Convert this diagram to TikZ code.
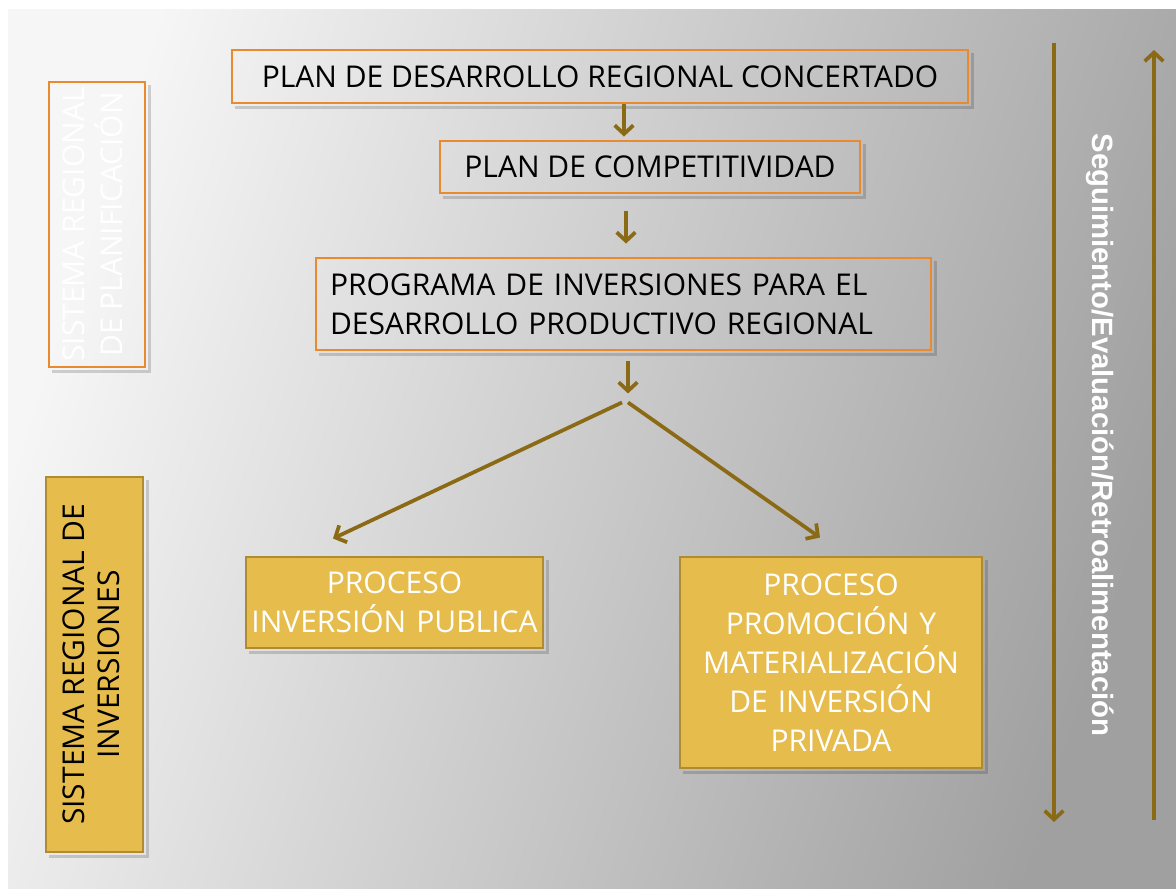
\documentclass[tikz,border=0pt]{standalone}
\usepackage{fontspec}
\setmainfont{Open Sans}
\newfontfamily\lateral{Liberation Sans}
\usepackage{tikz}
\usetikzlibrary{arrows.meta,
                calc}
\definecolor{naranja}{RGB}{234,138,46}
\definecolor{amarillo}{RGB}{230,188,76}
\definecolor{ocre}{RGB}{175,140,52}
\definecolor{marron}{RGB}{139,106,22}
\definecolor{fondoclaro}{RGB}{246,246,246}
\definecolor{fondomedio}{RGB}{188,188,188}
\definecolor{fondooscuro}{RGB}{160,160,160}
\tikzset{plan/.style =
   {rectangle,
    draw=naranja,
    line width=2.2pt,
    text=black,
    text centered,
    font=\fontsize{22.5}{29.25}\selectfont}}
\tikzset{proceso/.style =
   {rectangle,
    draw=ocre,
    fill=amarillo,
    line width=2.2pt,
    text=white,
    align=center,
    inner xsep=0pt,
    font=\fontsize{22.5}{29.25}\selectfont}}
\tikzset{sistema/.style =
   {rectangle,
    line width=2.2pt,
    inner sep=0pt,
    font=\fontsize{22.5}{25}\selectfont}}
\tikzset{flecha/.style =
   {draw=marron,
    line width=2.8pt,
    -{Straight Barb[length=6.5pt, width=14pt]}}}
\tikzset{sombra/.style =
   {draw=black,
    opacity=.16,
    line width=2.5pt}}

\begin{document}
\begin{tikzpicture}[x=0.75pt, y=-0.75pt]

    % fondo
    \useasboundingbox (0,0) rectangle (1176,888);
    \fill[white] (0,0) rectangle (1176,888);
    \shade[top color=fondoclaro,
           middle color=fondomedio,
           bottom color=fondooscuro,
           shading angle=72] (8,10) rectangle (1176,888);

    % planes
    \node [plan,
           minimum width=552pt,
           minimum height=39.75pt] (desarrollo) at (600,76.5)
    {PLAN DE DESARROLLO REGIONAL CONCERTADO};

    \node [plan,
           minimum width=315pt,
           minimum height=39pt] (competitividad) at (650,167)
    {PLAN DE COMPETITIVIDAD};

    \node [plan,
           minimum width=461.25pt,
           minimum height=69pt,
           text width=440.25pt,
           align=left] (programa) at (623.5,304)
    {PROGRAMA DE INVERSIONES PARA EL\\
     DESARROLLO PRODUCTIVO REGIONAL};

    % procesos
    \node [proceso,
           text width=222.75pt,
           minimum height=68.25pt] (publica) at (394.5,602.5)
    {PROCESO\\
     INVERSIÓN PUBLICA};

    \node [proceso,
           text width=226.5pt,
           minimum height=158.25pt] (privada) at (831,662.5)
    {PROCESO\\
     PROMOCIÓN Y\\
     MATERIALIZACIÓN\\
     DE INVERSIÓN\\
     PRIVADA};

    % sistemas
    \node [sistema,
           draw=naranja,
           text=white,
           minimum width=72pt,
           minimum height=213.75pt] (planificacion) at (97,224.5)
    {\rotatebox{90}{\begin{tabular}{@{}c@{}}
       SISTEMA REGIONAL\\ DE PLANIFICACIÓN
     \end{tabular}}};

    \node [sistema,
           draw=ocre,
           fill=amarillo,
           text=black,
           font=\fontsize{22.5}{26.25}\selectfont,
           minimum width=72.75pt,
           minimum height=281.25pt] (inversiones) at (94.5,664.5)
    {\rotatebox{90}{\begin{tabular}{@{}c@{}}
       SISTEMA REGIONAL DE\\ INVERSIONES
     \end{tabular}}};

    % sombras
    \foreach \n in {desarrollo, competitividad, programa,
                    publica, privada, planificacion, inversiones}
        \draw [sombra] ($(\n.south west)+(4,3)$) -| ($(\n.north east)+(3,4)$);

    % flechas
    \coordinate (nudo) at ($(programa.south)+(4.5,42)$);

    \draw [flecha] ($(desarrollo.south)+(24,0)$) -- ($(competitividad.north)+(-26,-3)$);
    \draw [flecha] ($(competitividad.south)+(-24,17)$) -- ($(programa.north)+(2.5,-13)$);
    \draw [flecha] ($(programa.south)+(4.5,10)$) -- (nudo);
    \draw [flecha] ($(nudo)+(-6,9)$) -- ($(publica.north)+(-61.5,-17)$);
    \draw [flecha] ($(nudo)+(0,9)$) -- ($(privada.north)+(-11,-18)$);

    % seguimiento
    \node [rotate=-90,
           text=white,
           font=\lateral\bfseries\fontsize{22}{26}\selectfont] (seguimiento) at (1100,435)
    {Seguimiento/Evaluación/Retroalimentación};

    \coordinate (bajadaIni) at (1054,43);
    \coordinate (bajadaFin) at (1054,822);
    \coordinate (subidaIni) at (1154,820);
    \coordinate (subidaFin) at (1154,50);

    \draw [flecha] (bajadaIni) -- (bajadaFin);
    \draw [flecha] (subidaIni) -- (subidaFin);

\end{tikzpicture}
\end{document}
